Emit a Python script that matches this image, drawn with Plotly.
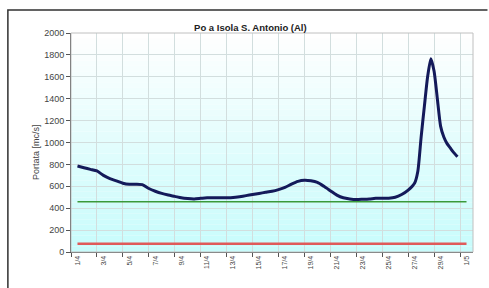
import plotly.graph_objects as go

# ---- data ----
day_labels = ["1/4", "3/4", "5/4", "7/4", "9/4", "11/4", "13/4", "15/4",
              "17/4", "19/4", "21/4", "23/4", "25/4", "27/4", "29/4", "1/5"]
label_days = [0, 2, 4, 6, 8, 10, 12, 14, 16, 18, 20, 22, 24, 26, 28, 30]

# time in days from 1/4 00:00 (fractional), discharge in mc/s
t = [0, 0.5, 1.0, 1.5, 2.0, 2.5, 3.0, 3.5, 4.0, 4.5, 5.0, 5.5, 6.0, 6.5, 7.0,
     7.5, 8.0, 8.5, 9.0, 9.5, 10.0, 10.5, 11.0, 11.5, 12.0, 12.5, 13.0, 13.5,
     14.0, 14.5, 15.0, 15.5, 16.0, 16.5, 17.0, 17.5, 18.0, 18.5, 19.0, 19.5,
     20.0, 20.5, 21.0, 21.5, 22.0, 22.5, 23.0, 23.5, 24.0, 24.5, 25.0, 25.5,
     26.0, 26.25, 26.5, 26.75, 27.0, 27.25, 27.5, 27.75, 28.0, 28.25, 28.5,
     28.75, 29.0, 29.3]
portata = [785, 770, 755, 740, 700, 670, 650, 628, 618, 618, 615, 580, 555,
           535, 520, 508, 495, 488, 485, 490, 495, 495, 495, 495, 497, 505,
           515, 525, 535, 545, 555, 570, 590, 620, 645, 655, 650, 635, 600,
           560, 520, 495, 485, 480, 482, 485, 490, 492, 492, 500, 525, 565,
           630, 740, 1050, 1330, 1600, 1765, 1650, 1400, 1150, 1050, 990,
           950, 910, 870]

soglia_t = [0, 30]
soglia_verde = [460, 460]
soglia_rossa = [75, 75]

fig = go.Figure()

# gradient background bands (white at top -> light cyan at bottom)
n_bands = 40
for i in range(n_bands):
    f = i / (n_bands - 1)
    r = int(255 + (200 - 255) * f)
    g = int(255 + (252 - 255) * f)
    b = int(255 + (252 - 255) * f)
    fig.add_shape(type="rect", xref="x domain", yref="y domain",
                  x0=0, x1=1, y0=1 - (i + 1) / n_bands, y1=1 - i / n_bands,
                  fillcolor=f"rgb({r},{g},{b})", line_width=0, layer="below")

fig.add_trace(go.Scatter(x=soglia_t, y=soglia_verde, mode="lines",
                         line=dict(color="#3a9a3a", width=1.5),
                         hoverinfo="skip", showlegend=False))
fig.add_trace(go.Scatter(x=soglia_t, y=soglia_rossa, mode="lines",
                         line=dict(color="#e05a5a", width=2.5),
                         hoverinfo="skip", showlegend=False))
fig.add_trace(go.Scatter(x=t, y=portata, mode="lines",
                         line=dict(color="#141a5a", width=3, shape="spline",
                                   smoothing=0.6),
                         showlegend=False))

# plot-area border (top/right light grey)
fig.add_shape(type="rect", xref="x domain", yref="y domain", x0=0, x1=1,
              y0=0, y1=1, line=dict(color="#c0c0c0", width=1),
              fillcolor="rgba(0,0,0,0)", layer="above")
# outer chart border: only top and left edges are visible (one open path)
fig.add_shape(type="path", xref="paper", yref="paper",
              path="M -0.157,-0.164 L -0.157,1.105 L 1.036,1.105",
              line=dict(color="#303030", width=1.5))

fig.update_layout(
    width=489, height=288,
    margin=dict(l=71, r=16, t=33, b=36),
    paper_bgcolor="white", plot_bgcolor="white",
    font=dict(family="Liberation Sans, Arial, sans-serif", color="#333333",
              size=8),
    title=dict(text="<b>Po a Isola S. Antonio (Al)</b>", x=0.512,
               xanchor="center", y=0.903, yanchor="middle",
               font=dict(size=9.5, color="#222222")),
)

fig.update_xaxes(
    range=[-0.5, 30.5], tickmode="array", tickvals=label_days,
    ticktext=day_labels, tickangle=-90, ticks="", showgrid=False,
    tickfont=dict(size=7, color="#444444"),
    showline=True, linecolor="#555555", linewidth=1, zeroline=False,
    minor=dict(tick0=-0.5, dtick=2, ticks="outside", ticklen=4,
               tickcolor="#555555", showgrid=True, gridcolor="#d2dede",
               gridwidth=1),
)
fig.update_yaxes(
    range=[0, 2000], dtick=200, ticks="outside", ticklen=4,
    tickcolor="#555555", showgrid=True, gridcolor="#d2dede", gridwidth=1,
    showline=True, linecolor="#444444", linewidth=1, zeroline=False,
    tickfont=dict(size=9, color="#444444"),
)

fig.add_annotation(text="Portata [mc/s]", xref="paper", yref="paper",
                   x=-0.104, y=0.457, textangle=-90, showarrow=False,
                   font=dict(size=9, color="#444444"))

fig.write_html("out.html", config={"displayModeBar": False},
               post_script="document.body.style.margin='0';"
                           "document.body.style.overflow='hidden';"
                           "document.documentElement.style.overflow='hidden';")
